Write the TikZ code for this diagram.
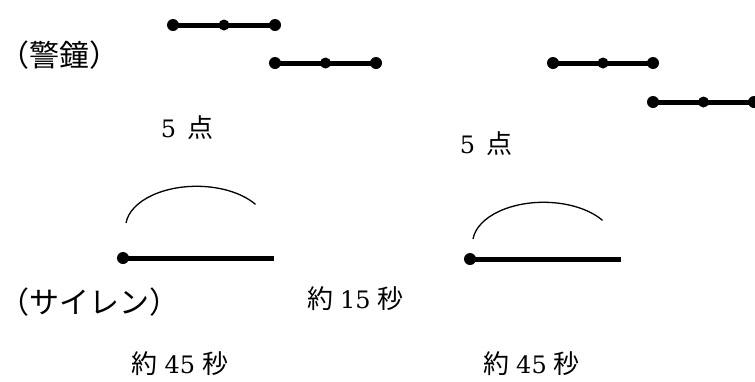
\documentclass[tikz,border=0pt]{standalone}
\usepackage{fontspec}
\newfontfamily\jp{Noto Sans CJK JP}
\newfontfamily\dg{DejaVu Serif}
\usepackage{tikz}
\usetikzlibrary{calc}

\tikzset{
  bar/.style={line width=5pt},
  wave/.style={line width=1.3pt},
  lbl/.style={font=\fontsize{30}{36}\selectfont\jp, inner sep=0pt},
  txt/.style={inner sep=0pt},
}
\newcommand{\ji}[1]{{\jp\fontsize{26}{30}\selectfont #1}}
\newcommand{\nm}[1]{{\dg\fontsize{24}{28}\selectfont #1}}

\begin{document}
\begin{tikzpicture}[x=1pt,y=-1pt]
        \useasboundingbox (0,0) rectangle (755,381);
        % bell strokes
        \coordinate (k1) at (173,25);
        \coordinate (k2) at (275,25);
        \coordinate (k3) at (275,63);
        \coordinate (k4) at (376,63);
        \coordinate (k5) at (553,63);
        \coordinate (k6) at (653,63);
        \coordinate (k7) at (653,102);
        \coordinate (k8) at (754,102);
        \draw[bar] (k1) -- (k2);
        \draw[bar] (k3) -- (k4);
        \draw[bar] (k5) -- (k6);
        \draw[bar] (k7) -- (k8);
        \fill (k1) circle (6pt) ($(k1)!.5!(k2)$) circle (5.5pt) (k2) circle (6pt);
        \fill (k3) circle (6pt) ($(k3)!.5!(k4)$) circle (5.5pt) (k4) circle (6pt);
        \fill (k5) circle (6pt) ($(k5)!.5!(k6)$) circle (5.5pt) (k6) circle (6pt);
        \fill (k7) circle (6pt) ($(k7)!.5!(k8)$) circle (5.5pt) (k8) circle (6pt);
        % siren strokes
        \coordinate (s1) at (123,258);
        \coordinate (s2) at (274,258);
        \coordinate (s3) at (470,259);
        \coordinate (s4) at (621,259);
        \draw[bar] (s1) -- (s2);
        \draw[bar] (s3) -- (s4);
        \fill (s1) circle (6pt) (s3) circle (6pt);
        \draw[wave] ($(s1)+(3,-35)$) arc[start angle=-174, end angle=-34, x radius=71, y radius=41];
        \draw[wave] ($(s3)+(3,-20)$) arc[start angle=-174, end angle=-34, x radius=71, y radius=41];
        % labels
        \node[lbl] (bell) at (59,55) {（警鐘）};
        \node[lbl] (siren) at (89,302) {（サイレン）};
        \node[txt] (pts1) at (187,128) {\nm{5}\hspace{11pt}\ji{点}};
        \node[txt] (pts2) at (486,144) {\nm{5}\hspace{11pt}\ji{点}};
        \node[txt] (gap) at (355.5,299) {\ji{約}\hspace{7pt}\nm{15}\hspace{7pt}\ji{秒}};
        \node[txt] (len1) at (180,364) {\ji{約}\hspace{7pt}\nm{45}\hspace{7pt}\ji{秒}};
        \node[txt] (len2) at (531.5,364) {\ji{約}\hspace{7pt}\nm{45}\hspace{7pt}\ji{秒}};
    \end{tikzpicture}
\end{document}
